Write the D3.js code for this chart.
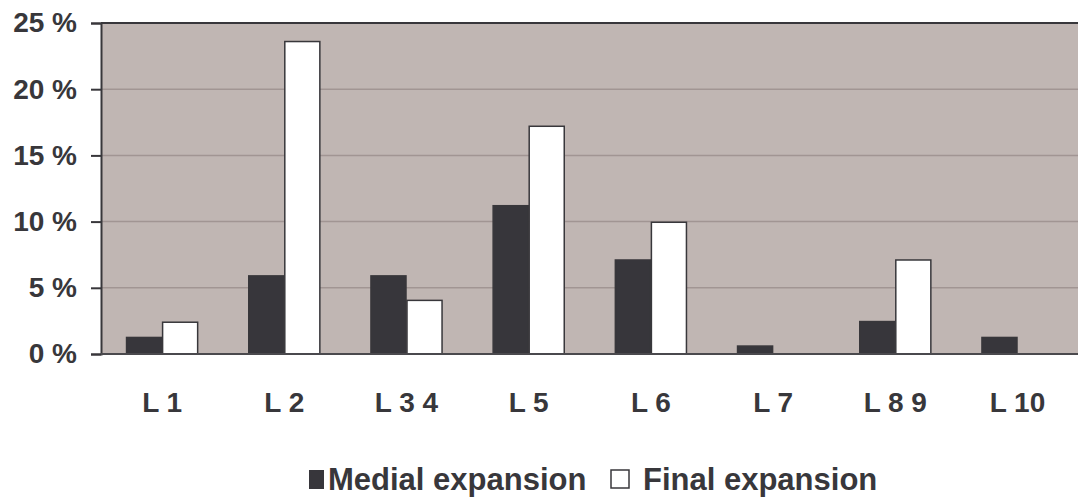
<!DOCTYPE html>
<html>
<head>
<meta charset="utf-8">
<script src="https://cdn.jsdelivr.net/npm/d3@7"></script>
<style>
  html, body { margin: 0; padding: 0; background: #fff; }
  svg { display: block; font-family: "Liberation Sans", Arial, sans-serif; }
</style>
</head>
<body>
<svg id="chart" width="1078" height="498"></svg>
<script>
// Categories and series (percent)
const categories = ["L 1", "L 2", "L 3 4", "L 5", "L 6", "L 7", "L 8 9", "L 10"];
const medial = [1.25, 5.9, 5.9, 11.2, 7.1, 0.6, 2.45, 1.25];
const final_ = [2.4, 23.6, 4.05, 17.2, 9.95, 0, 7.1, 0];
const seriesNames = ["Medial expansion", "Final expansion"];
const yTicks = [0, 5, 10, 15, 20, 25];

const svg = d3.select("#chart");
const plotLeft = 101, plotRight = 1078.6, plotTop = 23, plotBottom = 354;

const x = d3.scaleBand().domain(categories).range([plotLeft, plotRight])
  .paddingInner(0.41).paddingOuter(0.205);
const xs = d3.scaleBand().domain([0, 1]).range([0, x.bandwidth()]);
const y = d3.scaleLinear().domain([0, 25]).range([plotBottom, plotTop]);

// plot background
svg.append("rect").attr("x", plotLeft).attr("y", plotTop)
  .attr("width", 1078 - plotLeft).attr("height", plotBottom - plotTop)
  .attr("fill", "#c0b6b3");

// gridlines
svg.append("g").selectAll("line").data(yTicks.filter(d => d > 0 && d < 25)).join("line")
  .attr("x1", plotLeft).attr("x2", 1078)
  .attr("y1", d => y(d)).attr("y2", d => y(d))
  .attr("stroke", "#a19593").attr("stroke-width", 1.5);

// top frame line
svg.append("line").attr("x1", plotLeft).attr("x2", 1078)
  .attr("y1", y(25)).attr("y2", y(25))
  .attr("stroke", "#38373b").attr("stroke-width", 2);

// bars
const rows = categories.map((c, i) => ({ c, v: [medial[i], final_[i]] }));
const g = svg.append("g").selectAll("g").data(rows).join("g")
  .attr("transform", d => `translate(${x(d.c)},0)`);
g.selectAll("rect").data(d => d.v.map((v, k) => ({ v, k })).filter(d => d.v > 0)).join("rect")
  .attr("x", d => xs(d.k) + 0.5)
  .attr("y", d => y(d.v))
  .attr("width", xs.bandwidth() - 1)
  .attr("height", d => y(0) - y(d.v))
  .attr("fill", d => d.k === 0 ? "#37363b" : "#ffffff")
  .attr("stroke", "#38373b")
  .attr("stroke-width", 1.5);

// y axis
const yAxis = d3.axisLeft(y).tickValues(yTicks).tickSize(10).tickPadding(14)
  .tickFormat(d => d + " %");
const ya = svg.append("g").attr("transform", `translate(${plotLeft},0)`).call(yAxis);
ya.select(".domain").attr("stroke", "#38373b").attr("stroke-width", 2);
ya.selectAll(".tick line").attr("stroke", "#38373b").attr("stroke-width", 2);
ya.selectAll(".tick text").attr("fill", "#38373b")
  .style("font-size", "28px").style("font-weight", "bold")
  .attr("font-family", "Liberation Sans, Arial, sans-serif");

// x axis baseline
svg.append("line").attr("x1", plotLeft).attr("x2", 1078)
  .attr("y1", y(0)).attr("y2", y(0))
  .attr("stroke", "#4a494d").attr("stroke-width", 2);

// x axis labels
const xAxis = d3.axisBottom(x).tickSize(0).tickPadding(0);
const xa = svg.append("g").attr("transform", `translate(0,${y(0)})`).call(xAxis);
xa.select(".domain").remove();
xa.selectAll(".tick text").attr("fill", "#38373b").attr("y", 58).attr("dy", 0)
  .style("font-size", "28px").style("font-weight", "bold")
  .attr("font-family", "Liberation Sans, Arial, sans-serif");

// legend
const lg = svg.append("g");
lg.append("rect").attr("x", 309).attr("y", 470).attr("width", 15).attr("height", 19)
  .attr("fill", "#37363b");
lg.append("text").attr("x", 328).attr("y", 490).text(seriesNames[0])
  .attr("fill", "#38373b").style("font-size", "31px").style("font-weight", "bold");
lg.append("rect").attr("x", 611).attr("y", 470).attr("width", 18).attr("height", 18)
  .attr("fill", "#fff").attr("stroke", "#38373b").attr("stroke-width", 1.5);
lg.append("text").attr("x", 643).attr("y", 490).text(seriesNames[1])
  .attr("fill", "#38373b").style("font-size", "31px").style("font-weight", "bold");
</script>
</body>
</html>
